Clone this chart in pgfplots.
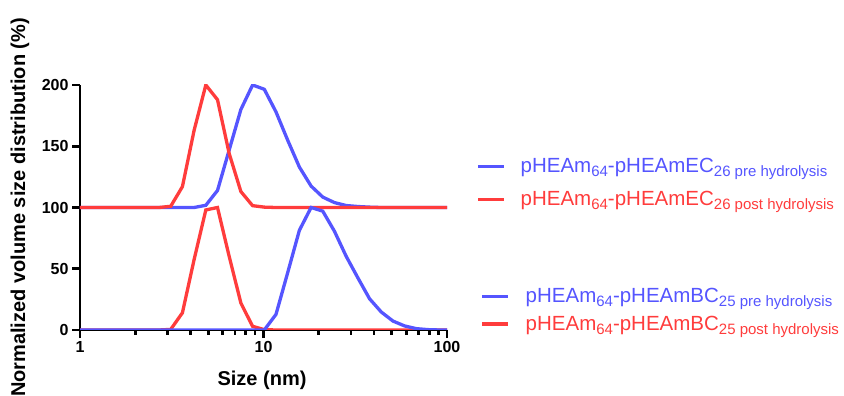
\documentclass[border=0pt]{standalone}
\usepackage{pgfplots}
\pgfplotsset{compat=1.18}
\usepackage{fontspec}
\setmainfont{Liberation Sans}
\definecolor{cblue}{RGB}{85,85,255}
\definecolor{cred}{RGB}{255,60,60}
\newcommand\sub[1]{\raisebox{-4pt}{\fontsize{15}{15}\selectfont #1}}

\pgfplotsset{
  common/.style={
    width=367pt, height=245pt, scale only axis,
    xmin=1, xmax=100, ymin=0, ymax=200,
    clip=true,
    legend style={draw=none, fill=none, inner sep=0pt, outer sep=0pt,
      font=\fontsize{20.5}{22}\selectfont, anchor=north west,
      nodes={inner sep=2pt}},
    legend cell align=left,
    legend image code/.code={\draw[##1, line width=3.3pt] (0pt,0pt) -- (26pt,0pt);},
  }
}

\begin{document}
\begin{tikzpicture}
\useasboundingbox (0,0) rectangle (844pt,396pt);
\begin{axis}[xmode=log, common,
  at={(80pt,66pt)}, anchor=south west,
  axis x line*=bottom, axis y line*=left,
  axis line style={line width=2.6pt, black, -},
  xtick={1,10,100}, xticklabels={1,10,100},
  minor xtick={2,3,4,5,6,7,8,9,20,30,40,50,60,70,80,90},
  ytick={0,50,100,150,200},
  tick align=outside,
  major tick length=8pt, minor tick length=5pt,
  every tick/.style={black, line width=2.6pt},
  minor tick style={line width=2.6pt},
  /pgf/number format/assume math mode=true,
  ticklabel style={font=\fontsize{16}{18}\selectfont\bfseries},
  xlabel={\textbf{Size (nm)}},
  ylabel={\textbf{Normalized volume size distribution (\%)}},
  label style={font=\fontsize{20}{22}\selectfont},
  xlabel style={at={(axis description cs:0.496,-0.204)}, anchor=center},
  ylabel style={at={(axis description cs:-0.1635,0.5)}, anchor=center},
  legend style={at={(axis description cs:1.080,0.708)}, row sep=13pt, column sep=13pt},
]
\addplot[cblue, line width=3.3pt] coordinates {
(0.9649,100) (1.117,100) (1.294,100) (1.499,100) (1.736,100) (2.01,100) (2.328,100) (2.696,100) (3.122,100) (3.615,100) (4.187,100)
(4.849,101.8) (5.615,113.9) (6.503,147) (7.531,180) (8.721,200) (10.1,196.5) (11.7,178) (13.54,155) (15.69,133) (18.17,117.5)
(21.04,108.5) (24.36,104) (28.21,101.6) (32.67,100.8) (37.84,100.3) (43.82,100) (50.75,100) (58.77,100) (68.06,100) (78.82,100) (91.28,100) (105.7,100)};
\addlegendentry{\textcolor{cblue}{pHEAm\sub{64}-pHEAmEC\sub{26 pre hydrolysis}}}
\addplot[cred, line width=3.3pt] coordinates {
(0.9649,100) (1.117,100) (1.294,100) (1.499,100) (1.736,100) (2.01,100) (2.328,100) (2.696,100)
(3.122,101) (3.615,117) (4.187,163) (4.849,200) (5.615,188) (6.503,144) (7.531,113) (8.721,101.5) (10.1,100.3)
(11.7,100) (13.54,100) (15.69,100) (18.17,100) (21.04,100) (24.36,100) (28.21,100) (32.67,100) (37.84,100) (43.82,100) (50.75,100) (58.77,100) (68.06,100) (78.82,100) (91.28,100) (105.7,100)};
\addlegendentry{\textcolor{cred}{pHEAm\sub{64}-pHEAmEC\sub{26 post hydrolysis}}}
\end{axis}
\begin{axis}[xmode=log, common, hide axis,
  at={(80pt,66pt)}, anchor=south west,
  reverse legend,
  legend style={at={(axis description cs:1.091,0.178)}, row sep=8pt, column sep=14pt},
]
\addplot[cred, line width=3.3pt] coordinates {
(0.9649,0) (1.117,0) (1.294,0) (1.499,0) (1.736,0) (2.01,0) (2.328,0) (2.696,0)
(3.122,0.5) (3.615,14) (4.187,57.5) (4.849,98) (5.615,100) (6.503,60) (7.531,22) (8.721,3) (10.1,0.3)
(11.7,0) (13.54,0) (15.69,0) (18.17,0) (21.04,0) (24.36,0) (28.21,0) (32.67,0) (37.84,0) (43.82,0) (50.75,0) (58.77,0) (68.06,0) (78.82,0) (91.28,0) (105.7,0)};
\addplot[cblue, line width=3.3pt] coordinates {
(0.9649,0) (1.117,0) (1.294,0) (1.499,0) (1.736,0) (2.01,0) (2.328,0) (2.696,0) (3.122,0) (3.615,0) (4.187,0) (4.849,0) (5.615,0) (6.503,0) (7.531,0) (8.721,0)
(10.1,0) (11.7,12.8) (13.54,46.7) (15.69,81.4) (18.17,100) (21.04,97) (24.36,80.6) (28.21,60.2) (32.67,42.6) (37.84,25.5) (43.82,14.7) (50.75,7.3) (58.77,3.3) (68.06,1.1) (78.82,0.3) (91.28,0) (105.7,0)};
\legend{\textcolor{cred}{pHEAm\sub{64}-pHEAmBC\sub{25 post hydrolysis}}, \textcolor{cblue}{pHEAm\sub{64}-pHEAmBC\sub{25 pre hydrolysis}}}
\end{axis}
\end{tikzpicture}
\end{document}
